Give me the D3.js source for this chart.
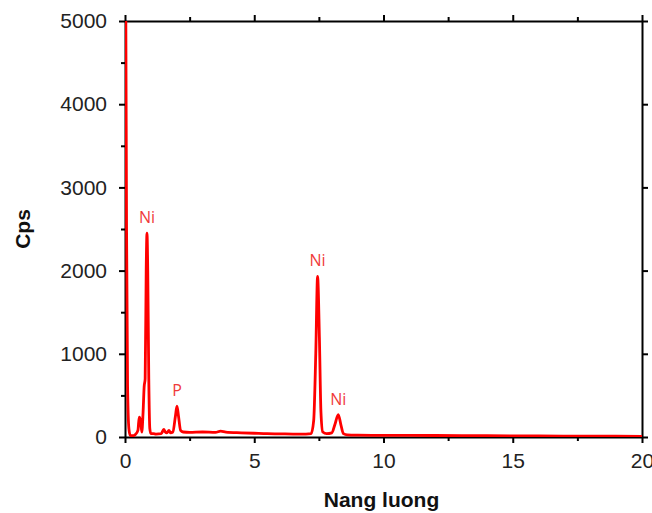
<!DOCTYPE html>
<html>
<head>
<meta charset="utf-8">
<script src="https://cdn.jsdelivr.net/npm/d3@7"></script>
<style>
  body { margin: 0; background: #fff; }
  svg { display: block; font-family: "Liberation Sans", Arial, sans-serif; }
</style>
</head>
<body>
<div id="chart"></div>
<script>
// spectrum (keV, counts per second)
var energy = [0, 0.03, 0.06, 0.1, 0.15, 0.2, 0.3, 0.4, 0.5, 0.55, 0.6, 0.65, 0.7, 0.74, 0.78, 0.82, 0.85, 0.88, 0.92, 0.96,
  1.0, 1.1, 1.2, 1.4, 1.5, 1.56, 1.62, 1.7, 1.76, 1.85, 1.95, 2.01, 2.07, 2.15, 2.25, 2.5, 3.0, 3.5, 3.7, 3.9,
  4.5, 5.0, 5.5, 6.0, 6.5, 7.0, 7.2, 7.3, 7.38, 7.45, 7.52, 7.58, 7.65, 7.8, 8.0, 8.12, 8.25, 8.35, 8.45, 8.6,
  9, 10, 12, 14, 16, 18, 20];
var cps = [6000, 5200, 2500, 600, 100, 20, 15, 30, 80, 240, 200, 60, 300, 600, 700, 2000, 2450, 2000, 700, 100,
  40, 40, 35, 40, 90, 60, 50, 80, 50, 60, 250, 370, 250, 80, 60, 55, 60, 55, 70, 58,
  50, 45, 40, 38, 35, 35, 40, 200, 1000, 1930, 1200, 300, 60, 40, 50, 150, 270, 150, 40, 25,
  22, 20, 18, 15, 12, 10, 8];

var peakNames = ["Ni", "P", "Ni", "Ni"];
var peakE = [0.85, 2.01, 7.45, 8.25];
var peakY = [2450, 370, 1930, 270];

var xTicks = [0, 5, 10, 15, 20];
var yTicks = [0, 1000, 2000, 3000, 4000, 5000];

var W = 652, H = 513;
var plotL = 125, plotR = 642, plotT = 21, plotB = 437;

var svg = d3.select("#chart").append("svg")
  .attr("width", W).attr("height", H);

var x = d3.scaleLinear().domain([0, 20]).range([plotL, plotR]);
var y = d3.scaleLinear().domain([0, 5000]).range([plotB, plotT]);

var axisColor = "#000";

// minor ticks
var xMinor = d3.range(2.5, 20, 5);
var yMinor = d3.range(500, 5000, 1000);

function styleAxis(g) {
  g.select(".domain").attr("stroke", axisColor).attr("stroke-width", 2);
  g.selectAll(".tick line").attr("stroke", axisColor).attr("stroke-width", 2);
  g.selectAll(".tick text").attr("font-size", "21px").attr("fill", "#222")
    .attr("font-family", "Liberation Sans, Arial, sans-serif");
}

// bottom
svg.append("g").attr("transform", "translate(0," + plotB + ")")
  .call(d3.axisBottom(x).tickValues(xTicks).tickSize(6).tickPadding(10).tickSizeOuter(0).tickFormat(d3.format("d")))
  .call(styleAxis);
svg.append("g").attr("transform", "translate(0," + plotB + ")")
  .call(d3.axisBottom(x).tickValues(xMinor).tickSize(4).tickFormat("").tickSizeOuter(0))
  .call(styleAxis).select(".domain").remove();

// top
svg.append("g").attr("transform", "translate(0," + plotT + ")")
  .call(d3.axisTop(x).tickValues(xTicks).tickSize(6).tickFormat("").tickSizeOuter(0))
  .call(styleAxis);
svg.append("g").attr("transform", "translate(0," + plotT + ")")
  .call(d3.axisTop(x).tickValues(xMinor).tickSize(4).tickFormat("").tickSizeOuter(0))
  .call(styleAxis).select(".domain").remove();

// left
svg.append("g").attr("transform", "translate(" + plotL + ",0)")
  .call(d3.axisLeft(y).tickValues(yTicks).tickSize(6).tickPadding(12).tickSizeOuter(0).tickFormat(d3.format("d")))
  .call(styleAxis);
svg.append("g").attr("transform", "translate(" + plotL + ",0)")
  .call(d3.axisLeft(y).tickValues(yMinor).tickSize(4).tickFormat("").tickSizeOuter(0))
  .call(styleAxis).select(".domain").remove();

// right
svg.append("g").attr("transform", "translate(" + plotR + ",0)")
  .call(d3.axisRight(y).tickValues(yTicks).tickSize(6).tickFormat("").tickSizeOuter(0))
  .call(styleAxis);

// axis titles
svg.append("text")
  .attr("x", (plotL + plotR) / 2 - 2).attr("y", 507)
  .attr("text-anchor", "middle")
  .attr("font-size", "21px").attr("font-weight", "bold").attr("fill", "#111")
  .text("Nang luong");

svg.append("text")
  .attr("transform", "translate(30," + ((plotT + plotB) / 2) + ") rotate(-90)")
  .attr("text-anchor", "middle")
  .attr("font-size", "21px").attr("font-weight", "bold").attr("fill", "#111")
  .text("Cps");

// spectrum
svg.append("clipPath").attr("id", "plotClip")
  .append("rect").attr("x", plotL).attr("y", plotT).attr("width", plotR - plotL).attr("height", plotB - plotT);

var pts = energy.map(function (e, i) { return [e, cps[i]]; });
var line = d3.line()
  .x(function (d) { return x(d[0]); })
  .y(function (d) { return y(d[1]); })
  .curve(d3.curveMonotoneX);

svg.append("path")
  .datum(pts)
  .attr("clip-path", "url(#plotClip)")
  .attr("d", line)
  .attr("fill", "none")
  .attr("stroke", "#ff0000")
  .attr("stroke-width", 2.8)
  .attr("stroke-linejoin", "round");

// peak labels
svg.selectAll("text.peak")
  .data(peakNames)
  .enter().append("text")
  .attr("class", "peak")
  .attr("x", function (d, i) { return x(peakE[i]); })
  .attr("y", function (d, i) { return y(peakY[i]) - 10; })
  .attr("text-anchor", "middle")
  .attr("font-size", "16px")
  .attr("font-family", "Open Sans, sans-serif")
  .attr("fill", "#f03a3a")
  .text(function (d) { return d; });
</script>
</body>
</html>
